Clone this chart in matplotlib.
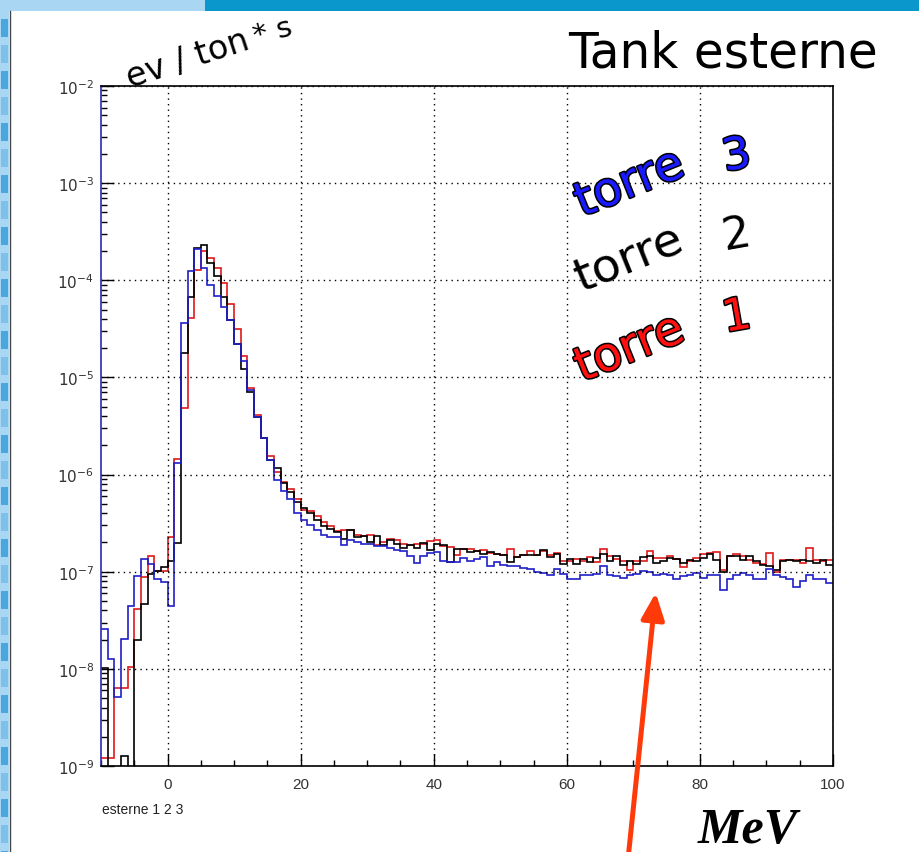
import numpy as np
import matplotlib
matplotlib.use("Agg")
import matplotlib.pyplot as plt
import matplotlib.patheffects as pe
from matplotlib.patches import Rectangle, FancyArrowPatch
from matplotlib.ticker import LogLocator, MultipleLocator, FixedLocator, NullFormatter

W, H = 919, 853

# 1 MeV bins from -10 to 100 MeV
bin_edges = np.arange(-10, 101, 1)

# log10(ev / ton*s) per bin, None = empty bin
torre1_log = [
    -8.92, -8.92, -8.20, -8.20, -7.98, -7.38, -7.05, -6.84, -6.99, -6.99,
    -6.64, -5.84, -5.31, -4.39, -3.89, -3.70, -3.77, -3.87, -4.03, -4.24,
    -4.50, -4.78, -5.11, -5.39, -5.62, -5.81, -5.97, -6.08, -6.15, -6.25,
    -6.36, -6.38, -6.43, -6.49, -6.53, -6.58, -6.57, -6.57, -6.62, -6.63,
    -6.62, -6.72, -6.69, -6.66, -6.67, -6.71, -6.72, -6.71, -6.71, -6.68,
    -6.67, -6.74, -6.75, -6.83, -6.77, -6.77, -6.79, -6.78, -6.81, -6.82,
    -6.83, -6.77, -6.85, -6.83, -6.79, -6.83, -6.79, -6.83, -6.81, -6.89,
    -6.89, -6.87, -6.89, -6.85, -6.90, -6.77, -6.84, -6.87, -6.89, -6.98,
    -6.89, -6.89, -6.79, -6.86, -6.86, -6.84, -6.87, -6.95, -6.89, -6.86,
    -6.82, -6.81, -6.80, -6.98, -6.84, -6.82, -6.84, -6.88, -6.91, -6.92,
    -6.81, -7.00, -6.88, -6.88, -6.88, -6.91, -6.76, -6.88, -6.89, -6.88,
]
torre2_log = [
    -7.99, None, None, -8.90, None, -7.70, -7.33, -7.02, -6.99, -6.95,
    -6.89, -6.70, -4.75, -4.17, -3.67, -3.64, -3.82, -3.96, -4.17, -4.41,
    -4.66, -4.91, -5.15, -5.41, -5.62, -5.85, -5.93, -6.09, -6.18, -6.28,
    -6.34, -6.40, -6.47, -6.53, -6.56, -6.59, -6.66, -6.57, -6.64, -6.63,
    -6.69, -6.63, -6.72, -6.67, -6.71, -6.76, -6.72, -6.76, -6.70, -6.78,
    -6.71, -6.73, -6.90, -6.77, -6.77, -6.80, -6.79, -6.82, -6.80, -6.82,
    -6.83, -6.90, -6.85, -6.83, -6.83, -6.83, -6.78, -6.85, -6.82, -6.92,
    -6.87, -6.92, -6.87, -6.90, -6.86, -6.82, -6.89, -6.84, -6.93, -6.89,
    -6.92, -6.85, -6.84, -6.91, -6.89, -6.86, -6.87, -6.91, -6.88, -6.89,
    -6.86, -6.82, -6.88, -7.00, -6.84, -6.84, -6.88, -6.84, -6.89, -6.93,
    -6.94, -6.98, -6.89, -6.88, -6.89, -6.88, -6.89, -6.91, -6.88, -6.93,
]
torre3_log = [
    -7.59, -7.90, -8.29, -7.69, -7.35, -7.04, -6.87, -6.92, -7.08, -7.11,
    -7.35, -5.88, -4.44, -3.90, -3.68, -3.87, -4.05, -4.16, -4.28, -4.41,
    -4.66, -4.83, -5.13, -5.41, -5.62, -5.85, -6.06, -6.17, -6.25, -6.40,
    -6.47, -6.52, -6.57, -6.62, -6.64, -6.64, -6.72, -6.67, -6.69, -6.71,
    -6.71, -6.74, -6.74, -6.76, -6.78, -6.79, -6.84, -6.91, -6.84, -6.81,
    -6.80, -6.89, -6.90, -6.90, -6.86, -6.89, -6.87, -6.85, -6.94, -6.90,
    -6.93, -6.94, -6.94, -6.96, -6.97, -7.00, -7.01, -7.03, -6.97, -7.02,
    -7.07, -7.08, -7.03, -7.03, -7.02, -6.94, -7.03, -7.04, -7.06, -7.03,
    -7.02, -6.99, -7.00, -7.03, -7.02, -7.03, -7.08, -7.04, -7.03, -7.01,
    -7.06, -7.03, -7.03, -7.19, -7.07, -7.03, -7.01, -7.03, -7.07, -7.08,
    -6.97, -7.03, -7.05, -7.08, -7.16, -7.10, -7.03, -7.07, -7.08, -7.12,
]

x_ticks = [0, 20, 40, 60, 80, 100]
y_decades = [-9, -8, -7, -6, -5, -4, -3, -2]


def to_rate(logs):
    # empty bins drop to the bottom of the frame, as in ROOT
    return np.array([10.0 ** v if v is not None else 1e-12 for v in logs])


def px(x, y):
    return x / W, 1 - y / H


fig = plt.figure(figsize=(W / 100, H / 100), dpi=100)
fig.patch.set_facecolor("white")

# slide decoration: top bar and left stripe
fig.add_artist(Rectangle(px(0, 12), 205 / W, 12 / H, transform=fig.transFigure,
                         color="#a9d6f2", lw=0))
fig.add_artist(Rectangle(px(205, 12), (W - 205) / W, 12 / H, transform=fig.transFigure,
                         color="#0a97cc", lw=0))
fig.add_artist(Rectangle(px(0, H), 9 / W, (H - 12) / H, transform=fig.transFigure,
                         color="#a9d6f2", lw=0))
for i, yy in enumerate(range(20, H, 26)):
    c = "#4aa6dc" if i % 2 == 0 else "#7fc0e8"
    fig.add_artist(Rectangle(px(1, yy + 18), 7 / W, 18 / H, transform=fig.transFigure,
                             color=c, lw=0))
fig.add_artist(plt.Line2D([10 / W, 10 / W], [0, 1 - 12 / H], transform=fig.transFigure,
                          color="#444444", lw=1))

ax = fig.add_axes([101 / W, 1 - 767 / H, 732 / W, 680 / H])
ax.set_yscale("log")

ax.stairs(to_rate(torre1_log), bin_edges, baseline=None, color="#dd1a1a", lw=1.2)
ax.stairs(to_rate(torre2_log), bin_edges, baseline=None, color="black", lw=1.2)
ax.stairs(to_rate(torre3_log), bin_edges, baseline=None, color="#1f1fc8", lw=1.2)

ax.set_xlim(-10, 100)
ax.set_ylim(1e-9, 1e-2)

ax.xaxis.set_major_locator(FixedLocator(x_ticks))
ax.xaxis.set_minor_locator(MultipleLocator(5))
ax.yaxis.set_major_locator(FixedLocator([10.0 ** d for d in y_decades]))
ax.yaxis.set_minor_locator(LogLocator(base=10, subs=np.arange(2, 10), numticks=20))
ax.yaxis.set_minor_formatter(NullFormatter())
ax.set_yticklabels([r"$10^{%d}$" % d for d in y_decades])

ax.tick_params(which="both", direction="in", top=False, right=False,
               colors="black", labelcolor="#333333", labelsize=11)
ax.tick_params(which="major", length=9, width=1)
ax.tick_params(which="minor", length=4.5, width=1)
ax.tick_params(axis="x", pad=8)
ax.tick_params(axis="y", pad=5)
for lab in ax.get_xticklabels() + ax.get_yticklabels():
    lab.set_fontfamily("Liberation Sans")

ax.grid(True, which="major", color="black", linestyle=(0, (1, 3)), lw=1)
for s in ax.spines.values():
    s.set_linewidth(1.2)
ax.spines["left"].set_color("#2a2ab0")

# texts
fig.text(*px(102, 810), "esterne 1 2 3", fontsize=10, color="#222222",
         family="Liberation Sans", va="center", ha="left")
fig.text(*px(878, 68), "Tank esterne", fontsize=35, ha="right", va="baseline",
         family="DejaVu Sans")
fig.text(*px(130, 88), "ev / ton", fontsize=24, rotation=18, rotation_mode="anchor",
         ha="left", va="baseline", family="DejaVu Sans")
fig.text(*px(256, 45), "* s", fontsize=21, rotation=15, rotation_mode="anchor",
         ha="left", va="baseline", family="DejaVu Sans")

outline = [pe.withStroke(linewidth=2.2, foreground="black")]
labels = [("torre", "3", "#1a1aff", 218, 172, outline),
          ("torre", "2", "black", 293, 250, None),
          ("torre", "1", "#ff1010", 383, 333, outline)]
for word, num, col, yb, yn, eff in labels:
    t1 = fig.text(*px(582, yb), word, fontsize=34, color=col, rotation=22,
                  rotation_mode="anchor", ha="left", va="baseline",
                  family="DejaVu Sans")
    t2 = fig.text(*px(725, yn), num, fontsize=32, color=col, rotation=10,
                  rotation_mode="anchor", ha="left", va="baseline",
                  family="DejaVu Sans")
    if eff:
        t1.set_path_effects(eff)
        t2.set_path_effects(eff)

fig.text(*px(748, 843), "MeV", fontsize=36, ha="center", va="baseline",
         family="Liberation Serif", style="italic", weight="bold")

arrow = FancyArrowPatch(px(627, 870), px(656, 591), transform=fig.transFigure,
                        arrowstyle="-|>,head_length=16,head_width=7",
                        mutation_scale=1, color="#ff3a0a", lw=3.6)
fig.add_artist(arrow)

fig.savefig("out.png", dpi=100)
